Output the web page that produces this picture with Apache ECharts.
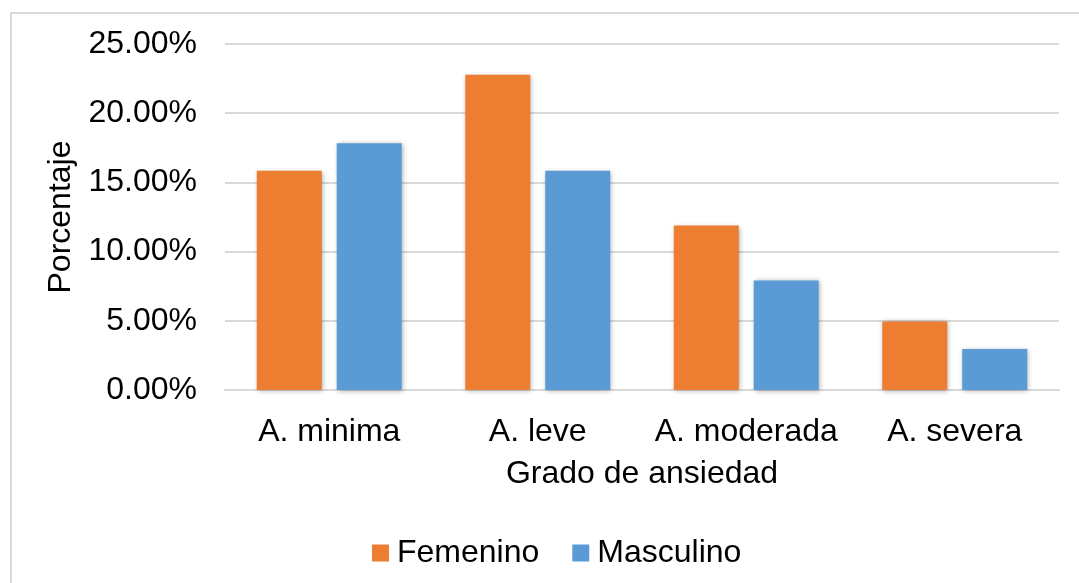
<!DOCTYPE html>
<html>
<head>
<meta charset="utf-8">
<script src="https://cdn.jsdelivr.net/npm/echarts@6/dist/echarts.min.js"></script>
<style>
  html, body { margin: 0; padding: 0; background: #fff; }
  #chart { width: 1079px; height: 583px; }
</style>
</head>
<body>
<div id="chart"></div>
<script>
const categories = ['A. minima', 'A. leve', 'A. moderada', 'A. severa']
const femenino = [15.84, 22.77, 11.88, 4.95]
const masculino = [17.82, 15.84, 7.92, 2.97]
const yTicks = { min: 0, max: 25, interval: 5 }

const font = '"Liberation Sans", Arial, sans-serif'
const barShadow = {
  shadowBlur: 5,
  shadowColor: 'rgba(0, 0, 0, 0.35)',
  shadowOffsetX: 1,
  shadowOffsetY: 1
}

const chart = echarts.init(document.getElementById('chart'))

const option = {
  animation: false,
  textStyle: { fontFamily: font },
  graphic: [
    {
      // borde del área del gráfico (solo se ven arriba e izquierda)
      type: 'rect',
      shape: { x: 11, y: 13, width: 1200, height: 700 },
      style: { fill: 'none', stroke: '#d9d9d9', lineWidth: 2 },
      silent: true
    }
  ],
  grid: {
    left: 225,
    right: 20,
    top: 44,
    bottom: 193
  },
  legend: {
    data: ['Femenino', 'Masculino'],
    left: 367,
    top: 532,
    itemWidth: 17,
    itemHeight: 17,
    itemGap: 33,
    icon: 'rect',
    textStyle: { fontSize: 32, color: '#000', fontFamily: font, padding: [0, 0, 0, 3] }
  },
  xAxis: {
    type: 'category',
    data: categories,
    name: 'Grado de ansiedad',
    nameLocation: 'middle',
    nameGap: 68,
    nameTextStyle: { fontSize: 32, color: '#000', fontFamily: font },
    axisLine: { lineStyle: { color: '#d9d9d9', width: 2 } },
    axisTick: { show: false },
    axisLabel: { fontSize: 32, color: '#000', margin: 26, interval: 0, fontFamily: font }
  },
  yAxis: {
    type: 'value',
    min: yTicks.min,
    max: yTicks.max,
    interval: yTicks.interval,
    name: 'Porcentaje',
    nameLocation: 'middle',
    nameGap: 146,
    nameRotate: 90,
    nameTextStyle: { fontSize: 32, color: '#000', fontFamily: font },
    axisLine: { show: false },
    axisTick: { show: false },
    splitLine: { lineStyle: { color: '#d9d9d9', width: 2 } },
    axisLabel: {
      fontSize: 32,
      color: '#000',
      margin: 28,
      fontFamily: font,
      formatter: (v) => v.toFixed(2) + '%'
    }
  },
  series: [
    {
      name: 'Femenino',
      type: 'bar',
      data: femenino,
      barWidth: 65,
      barGap: '23%',
      itemStyle: Object.assign({ color: '#ed7d31' }, barShadow)
    },
    {
      name: 'Masculino',
      type: 'bar',
      data: masculino,
      barWidth: 65,
      itemStyle: Object.assign({ color: '#5b9bd5' }, barShadow)
    }
  ]
}

chart.setOption(option)
</script>
</body>
</html>
